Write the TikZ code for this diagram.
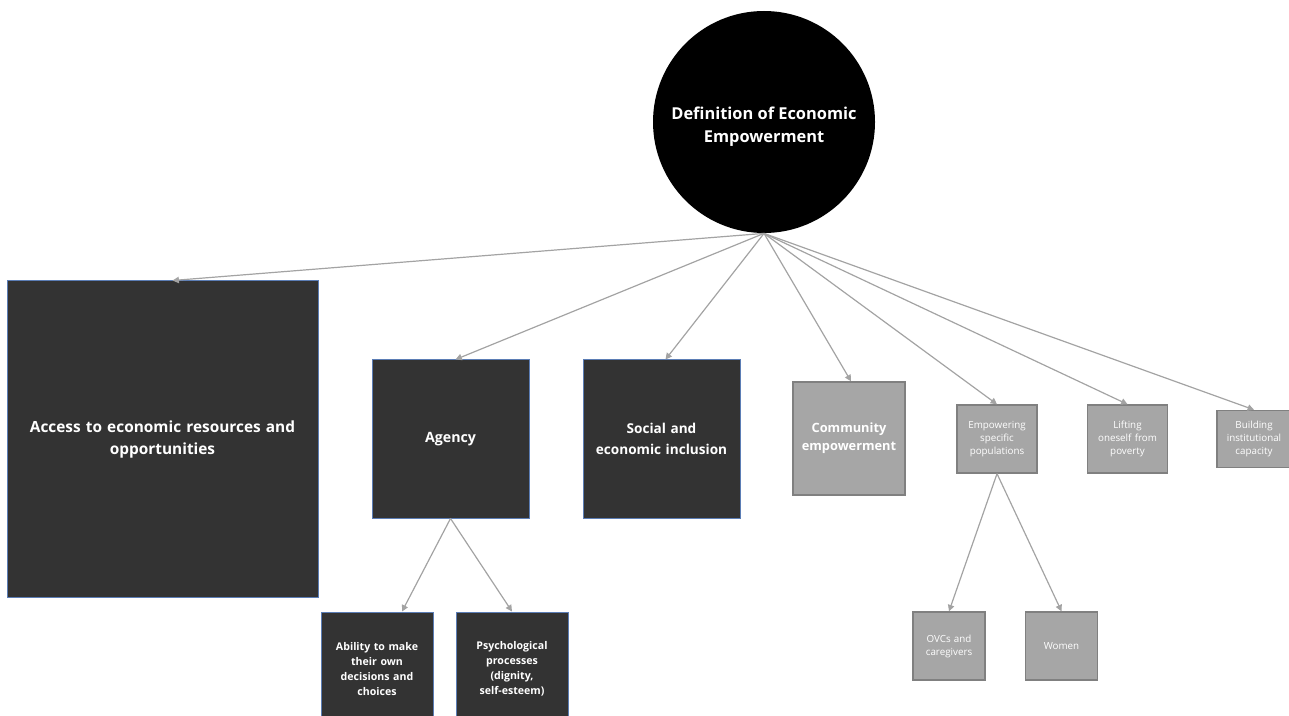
\documentclass[tikz,border=0pt]{standalone}
\usepackage{fontspec}
\setmainfont{Open Sans}
\usepackage{tikz}
\usetikzlibrary{arrows.meta,positioning}
\definecolor{darkfill}{HTML}{333333}
\definecolor{darkedge}{HTML}{5B7DB5}
\definecolor{greyfill}{HTML}{A6A6A6}
\definecolor{greyedge}{HTML}{808080}
\definecolor{linkgrey}{HTML}{A3A3A3}
\tikzset{>={Triangle[width=3.2pt,length=3.2pt]},
         darkbox/.style={draw=darkedge,fill=darkfill,line width=0.5pt,text=white,
           font=\bfseries,align=center,inner sep=2pt},
         greybox/.style={draw=greyedge,fill=greyfill,line width=0.7pt,text=white,
           align=center,inner sep=2pt},
         link/.style={->,draw=linkgrey,line width=0.6pt}}

\begin{document}
\begin{tikzpicture}[x=0.5pt,y=-0.5pt]
\useasboundingbox (0,0) rectangle (1289,716);
% centre
\node[circle,fill=black,minimum size=111pt,text=white,font=\bfseries\fontsize{8.2}{11.5}\selectfont,
      align=center,text height=22.5pt] (def) at (764,122) {Definition of Economic\\Empowerment};
% first level
\node[darkbox,minimum width=155.5pt,minimum height=158pt,text width=150pt,
      font=\bfseries\fontsize{7.7}{11}\selectfont] (access) at (162.5,439)
      {Access to economic resources and\\opportunities};
\node[darkbox,minimum width=78.5pt,minimum height=79pt,text width=74pt,
      font=\bfseries\fontsize{7.1}{11}\selectfont] (agency) at (450.5,439) {Agency};
\node[darkbox,minimum width=78.5pt,minimum height=79pt,text width=74pt,
      font=\bfseries\fontsize{6.8}{10.5}\selectfont] (social) at (661.5,439)
      {Social and\\economic inclusion};
\node[greybox,minimum width=56pt,minimum height=56.5pt,text width=52pt,
      font=\bfseries\fontsize{6.4}{9}\selectfont] (community) at (849,438.5)
      {Community\\empowerment};
\node[greybox,minimum width=39pt,minimum height=34pt,text width=36pt,
      font=\fontsize{4.9}{6.5}\selectfont] (specific) at (997,439)
      {Empowering\\specific\\populations};
\node[greybox,minimum width=38.5pt,minimum height=34pt,text width=36pt,
      font=\fontsize{4.9}{6.5}\selectfont] (poverty) at (1127.5,439)
      {Lifting\\oneself from\\poverty};
\node[greybox,minimum width=35pt,minimum height=28.5pt,text width=33pt,
      font=\fontsize{4.9}{6.5}\selectfont] (capacity) at (1254,439)
      {Building\\institutional\\capacity};
% second level
\node[darkbox,minimum width=56pt,minimum height=57pt,text width=52pt,
      font=\bfseries\fontsize{5.3}{7.5}\selectfont] (ability) at (377,669)
      {Ability to make\\their own\\decisions and\\choices};
\node[darkbox,minimum width=56pt,minimum height=57pt,text width=52pt,
      font=\bfseries\fontsize{5.3}{7.5}\selectfont] (psych) at (512,669)
      {Psychological\\processes\\(dignity,\\self-esteem)};
\node[greybox,minimum width=34pt,minimum height=34pt,text width=32pt,
      font=\fontsize{4.9}{6.5}\selectfont] (ovc) at (949,646) {OVCs and\\caregivers};
\node[greybox,minimum width=33.5pt,minimum height=34pt,text width=32pt,
      font=\fontsize{4.9}{6.5}\selectfont] (women) at (1061.5,646) {Women};
% connectors
\draw[link] (def.south) -- ([xshift=5pt]access.north);
\draw[link] (def.south) -- ([xshift=2.5pt]agency.north);
\draw[link] (def.south) -- ([xshift=2pt]social.north);
\draw[link] (def.south) -- ([xshift=1pt]community.north);
\draw[link] (def.south) -- (specific.north);
\draw[link] (def.south) -- (poverty.north);
\draw[link] (def.south) -- (capacity.north);
\draw[link] (agency.south) -- ([xshift=12.5pt]ability.north);
\draw[link] (agency.south) -- (psych.north);
\draw[link] (specific.south) -- (ovc.north);
\draw[link] (specific.south) -- (women.north);
\end{tikzpicture}
\end{document}
